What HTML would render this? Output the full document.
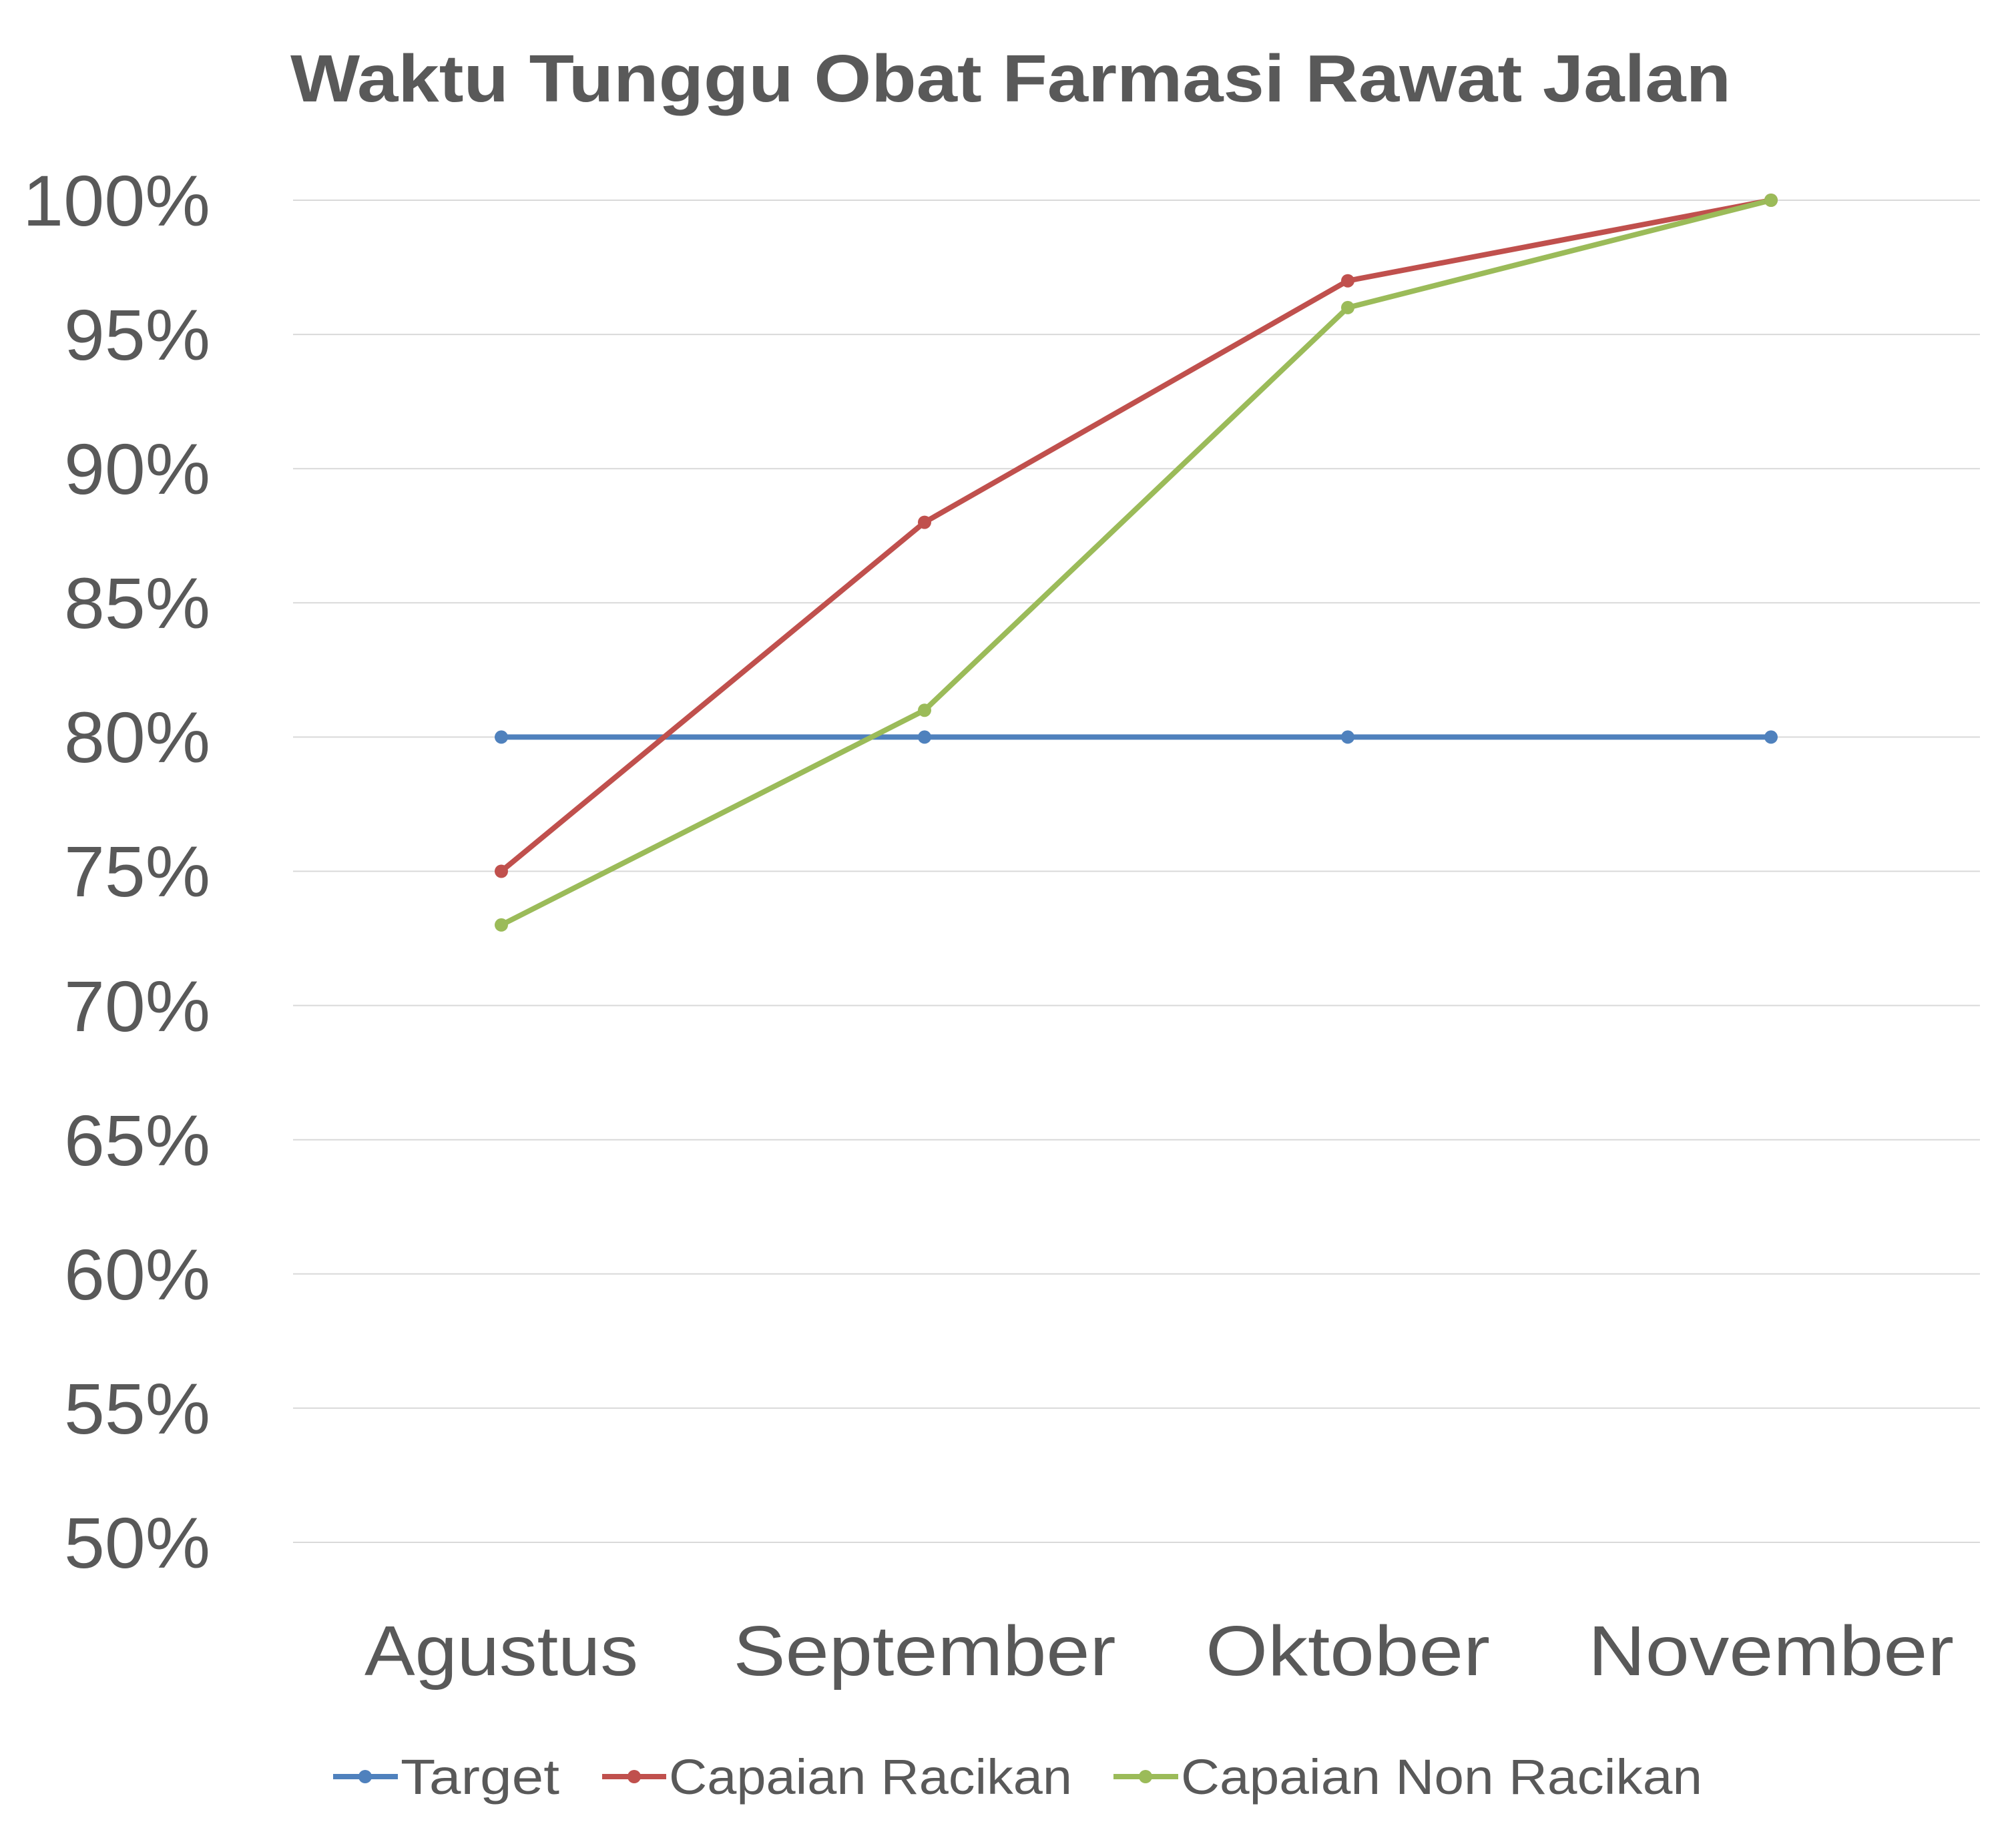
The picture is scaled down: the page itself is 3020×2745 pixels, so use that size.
<!DOCTYPE html>
<html><head><meta charset="utf-8"><style>html,body{margin:0;padding:0;background:#fff}svg{display:block}</style></head>
<body>
<svg width="3020" height="2745" viewBox="0 0 3020 2745" xmlns="http://www.w3.org/2000/svg" font-family="'Liberation Sans', sans-serif" fill="#595959">
<rect width="3020" height="2745" fill="#fff"/>
<text x="435" y="152" font-size="100" font-weight="bold" textLength="2158" lengthAdjust="spacingAndGlyphs">Waktu Tunggu Obat Farmasi Rawat Jalan</text>
<g stroke="#d9d9d9" stroke-width="2">
<line x1="439" y1="300" x2="2966" y2="300"/><line x1="439" y1="501.1" x2="2966" y2="501.1"/><line x1="439" y1="702.2" x2="2966" y2="702.2"/><line x1="439" y1="903.3" x2="2966" y2="903.3"/><line x1="439" y1="1104.4" x2="2966" y2="1104.4"/><line x1="439" y1="1305.5" x2="2966" y2="1305.5"/><line x1="439" y1="1506.6" x2="2966" y2="1506.6"/><line x1="439" y1="1707.7" x2="2966" y2="1707.7"/><line x1="439" y1="1908.8" x2="2966" y2="1908.8"/><line x1="439" y1="2109.9" x2="2966" y2="2109.9"/><line x1="439" y1="2311" x2="2966" y2="2311"/>
</g>
<g font-size="108" text-anchor="end">
<text x="315" y="338" textLength="281" lengthAdjust="spacingAndGlyphs">100%</text><text x="315" y="539" textLength="219" lengthAdjust="spacingAndGlyphs">95%</text><text x="315" y="740" textLength="219" lengthAdjust="spacingAndGlyphs">90%</text><text x="315" y="941" textLength="219" lengthAdjust="spacingAndGlyphs">85%</text><text x="315" y="1142" textLength="219" lengthAdjust="spacingAndGlyphs">80%</text><text x="315" y="1343" textLength="219" lengthAdjust="spacingAndGlyphs">75%</text><text x="315" y="1545" textLength="219" lengthAdjust="spacingAndGlyphs">70%</text><text x="315" y="1746" textLength="219" lengthAdjust="spacingAndGlyphs">65%</text><text x="315" y="1947" textLength="219" lengthAdjust="spacingAndGlyphs">60%</text><text x="315" y="2148" textLength="219" lengthAdjust="spacingAndGlyphs">55%</text><text x="315" y="2349" textLength="219" lengthAdjust="spacingAndGlyphs">50%</text>
</g>
<g font-size="106" text-anchor="middle">
<text x="751" y="2510" textLength="410" lengthAdjust="spacingAndGlyphs">Agustus</text>
<text x="1385" y="2510" textLength="573" lengthAdjust="spacingAndGlyphs">September</text>
<text x="2019" y="2510" textLength="426" lengthAdjust="spacingAndGlyphs">Oktober</text>
<text x="2653" y="2510" textLength="548" lengthAdjust="spacingAndGlyphs">November</text>
</g>
<g stroke-width="8" fill="none" stroke-linejoin="round">
<polyline stroke="#4F81BD" points="751,1104.4 1385,1104.4 2019,1104.4 2653,1104.4"/>
<polyline stroke="#C0504D" points="751,1305.5 1385,782.6 2019,420.7 2653,300"/>
<polyline stroke="#9BBB59" points="751,1385.9 1385,1064.2 2019,460.9 2653,300"/>
</g>
<g fill="#4F81BD"><circle cx="751" cy="1104.4" r="10"/><circle cx="1385" cy="1104.4" r="10"/><circle cx="2019" cy="1104.4" r="10"/><circle cx="2653" cy="1104.4" r="10"/></g>
<g fill="#C0504D"><circle cx="751" cy="1305.5" r="10"/><circle cx="1385" cy="782.6" r="10"/><circle cx="2019" cy="420.7" r="10"/><circle cx="2653" cy="300" r="10"/></g>
<g fill="#9BBB59"><circle cx="751" cy="1385.9" r="10"/><circle cx="1385" cy="1064.2" r="10"/><circle cx="2019" cy="460.9" r="10"/><circle cx="2653" cy="300" r="10"/></g>
<g stroke-width="8">
<line x1="499" y1="2662" x2="596" y2="2662" stroke="#4F81BD"/><circle cx="547" cy="2662" r="10" fill="#4F81BD"/>
<line x1="902" y1="2662" x2="998" y2="2662" stroke="#C0504D"/><circle cx="950" cy="2662" r="10" fill="#C0504D"/>
<line x1="1668" y1="2662" x2="1765" y2="2662" stroke="#9BBB59"/><circle cx="1716" cy="2662" r="10" fill="#9BBB59"/>
</g>
<g font-size="74">
<text x="600" y="2688" textLength="238" lengthAdjust="spacingAndGlyphs">Target</text>
<text x="1002" y="2688" textLength="604" lengthAdjust="spacingAndGlyphs">Capaian Racikan</text>
<text x="1769" y="2688" textLength="781" lengthAdjust="spacingAndGlyphs">Capaian Non Racikan</text>
</g>
</svg>
</body></html>
